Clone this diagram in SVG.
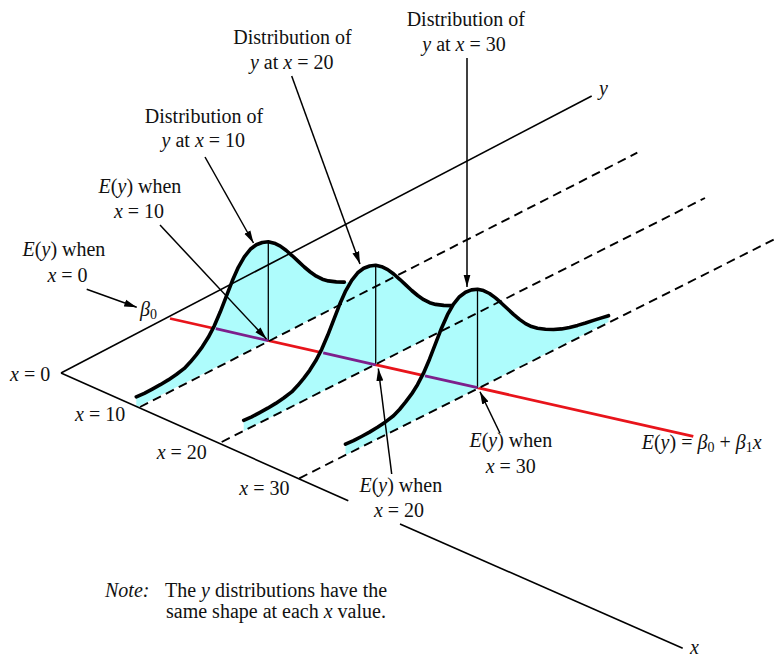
<svg xmlns="http://www.w3.org/2000/svg" width="775" height="659" viewBox="0 0 775 659">
<style>
text{font-family:"Liberation Serif","Times New Roman",serif;font-size:20px;fill:#111}
.i{font-style:italic}
.ax{stroke:#000;stroke-width:1.6;fill:none}
.dash{stroke:#000;stroke-width:1.9;stroke-dasharray:9 5.5;fill:none}
.bell{fill:none;stroke:#000;stroke-width:3.6;stroke-linejoin:round;stroke-linecap:round}
.fill{fill:#aefcfc;stroke:none}
.vl{stroke:#000;stroke-width:1.3}
.arr{stroke:#000;stroke-width:1.5;fill:none;marker-end:url(#ah)}
.red{stroke:#e8141b;stroke-width:2.8}
.pur{stroke:#7d1f8c;stroke-width:2.8}
.sub{font-size:14px}
</style>
<defs>
<marker id="ah" markerUnits="userSpaceOnUse" markerWidth="13" markerHeight="8" refX="12.5" refY="4" orient="auto"><path d="M0,0.5 L12.5,4 L0,7.5 Z" fill="#000"/></marker>
<path id="curveShort" d="M-132,56 L-124,52.5 L-116,48.3 L-108,43.9 L-100,39.1 L-92,33.7 L-84,27.6 L-78,21.3 L-72,14 L-66,6 L-60,-3.5 L-54,-15 L-48,-29 L-42,-44.5 L-36,-60 L-30,-73.5 L-24,-84 L-18,-91.5 L-12,-96 L-6,-98.3 L0,-99 L6,-97.6 L12,-94.7 L18,-90.3 L24,-85 L30,-79.4 L36,-73.8 L42,-68.8 L48,-64.6 L54,-61.6 L60,-59.9 L68,-58.9 L76,-58.7"/>
<path id="curveFull" d="M-132,56 L-124,52.5 L-116,48.3 L-108,43.9 L-100,39.1 L-92,33.7 L-84,27.6 L-78,21.3 L-72,14 L-66,6 L-60,-3.5 L-54,-15 L-48,-29 L-42,-44.5 L-36,-60 L-30,-73.5 L-24,-84 L-18,-91.5 L-12,-96 L-6,-98.3 L0,-99 L6,-97.6 L12,-94.7 L18,-90.3 L24,-85 L30,-79.4 L36,-73.8 L42,-68.8 L48,-64.6 L54,-61.6 L60,-59.9 L68,-58.9 L76,-58.7 L84,-59.3 L92,-60.8 L100,-62.8 L108,-65.2 L116,-67.8 L124,-70.3 L131,-72.5"/>
<path id="fillShort" d="M-132,56 L-124,52.5 L-116,48.3 L-108,43.9 L-100,39.1 L-92,33.7 L-84,27.6 L-78,21.3 L-72,14 L-66,6 L-60,-3.5 L-54,-15 L-48,-29 L-42,-44.5 L-36,-60 L-30,-73.5 L-24,-84 L-18,-91.5 L-12,-96 L-6,-98.3 L0,-99 L6,-97.6 L12,-94.7 L18,-90.3 L24,-85 L30,-79.4 L36,-73.8 L42,-68.8 L48,-64.6 L54,-61.6 L60,-59.9 L68,-58.9 L76,-58.7 L80,-58.8 L80,-40.4 L-132,66.7 Z"/>
<path id="fillFull" d="M-132,56 L-124,52.5 L-116,48.3 L-108,43.9 L-100,39.1 L-92,33.7 L-84,27.6 L-78,21.3 L-72,14 L-66,6 L-60,-3.5 L-54,-15 L-48,-29 L-42,-44.5 L-36,-60 L-30,-73.5 L-24,-84 L-18,-91.5 L-12,-96 L-6,-98.3 L0,-99 L6,-97.6 L12,-94.7 L18,-90.3 L24,-85 L30,-79.4 L36,-73.8 L42,-68.8 L48,-64.6 L54,-61.6 L60,-59.9 L68,-58.9 L76,-58.7 L84,-59.3 L92,-60.8 L100,-62.8 L108,-65.2 L116,-67.8 L124,-70.3 L131,-72.5 L131,-66.2 L-132,66.7 Z"/>
</defs>

<g id="regression-line">
<line class="red" x1="170" y1="318.5" x2="693.3" y2="436.3"/>
</g>

<g id="dist-x10" transform="translate(268.3,340.8)">
<use href="#fillShort" class="fill"/>
<use href="#curveShort" class="bell"/>
<line class="vl" x1="0" y1="0" x2="0" y2="-99"/>
</g>
<g id="dist-x20" transform="translate(375.7,364.3)">
<use href="#fillShort" class="fill"/>
<use href="#curveShort" class="bell"/>
<line class="vl" x1="0" y1="0" x2="0" y2="-99"/>
</g>
<g id="dist-x30" transform="translate(477.5,388.2)">
<use href="#fillFull" class="fill"/>
<use href="#curveFull" class="bell"/>
<line class="vl" x1="0" y1="0" x2="0" y2="-99"/>
</g>

<g id="connectors">
<line class="pur" x1="215.8" y1="328.7" x2="268.3" y2="340.6"/>
<line class="pur" x1="323.2" y1="352.9" x2="375.7" y2="364.8"/>
<line class="pur" x1="425" y1="375.8" x2="477.5" y2="387.7"/>
<line class="ax" x1="61" y1="373" x2="591.7" y2="96"/>
<line class="ax" x1="61" y1="373" x2="348.3" y2="500.7"/>
<line class="ax" x1="400" y1="524" x2="682.7" y2="648.3"/>
<line class="dash" x1="140" y1="407" x2="637.3" y2="152.7"/>
<line class="dash" x1="221.7" y1="442" x2="705" y2="198"/>
<line class="dash" x1="299.3" y1="478.3" x2="775" y2="239"/>
<line class="arr" x1="86.7" y1="289.3" x2="136.7" y2="307.3"/>
<line class="arr" x1="160" y1="225" x2="266.5" y2="339"/>
<line class="arr" x1="205" y1="157" x2="253.5" y2="243"/>
<line class="arr" x1="291.7" y1="76" x2="360" y2="264"/>
<line class="arr" x1="467" y1="58" x2="467" y2="287"/>
<line class="arr" x1="391.7" y1="474" x2="378.3" y2="368.5"/>
<line class="arr" x1="500" y1="433.3" x2="480" y2="391.7"/>
</g>

<g id="lbl-dist10" text-anchor="middle">
<text x="204" y="123.3">Distribution of</text>
<text x="203.3" y="146.7"><tspan class="i">y</tspan> at <tspan class="i">x</tspan> = 10</text>
</g>
<g id="lbl-dist20" text-anchor="middle">
<text x="292.5" y="44">Distribution of</text>
<text x="291.7" y="69"><tspan class="i">y</tspan> at <tspan class="i">x</tspan> = 20</text>
</g>
<g id="lbl-dist30" text-anchor="middle">
<text x="465.8" y="25.7">Distribution of</text>
<text x="464" y="50.7"><tspan class="i">y</tspan> at <tspan class="i">x</tspan> = 30</text>
</g>
<g id="lbl-ey10" text-anchor="middle">
<text x="140" y="193"><tspan class="i">E</tspan>(<tspan class="i">y</tspan>) when</text>
<text x="139" y="218"><tspan class="i">x</tspan> = 10</text>
</g>
<g id="lbl-ey0" text-anchor="middle">
<text x="64" y="256"><tspan class="i">E</tspan>(<tspan class="i">y</tspan>) when</text>
<text x="67.5" y="281.7"><tspan class="i">x</tspan> = 0</text>
</g>
<g id="lbl-beta0">
<text x="140" y="316"><tspan class="i">β</tspan><tspan class="sub" dy="3">0</tspan></text>
</g>
<g id="lbl-ey20" text-anchor="middle">
<text x="400.8" y="491.7"><tspan class="i">E</tspan>(<tspan class="i">y</tspan>) when</text>
<text x="399" y="517.3"><tspan class="i">x</tspan> = 20</text>
</g>
<g id="lbl-ey30" text-anchor="middle">
<text x="510.8" y="446.7"><tspan class="i">E</tspan>(<tspan class="i">y</tspan>) when</text>
<text x="510.8" y="473"><tspan class="i">x</tspan> = 30</text>
</g>
<g id="lbl-equation">
<text x="641.7" y="449.3"><tspan class="i">E</tspan>(<tspan class="i">y</tspan>) = <tspan class="i">β</tspan><tspan class="sub" dy="3">0</tspan><tspan dy="-3"> + </tspan><tspan class="i">β</tspan><tspan class="sub" dy="3">1</tspan><tspan class="i" dy="-3">x</tspan></text>
</g>
<g id="lbl-axes">
<text x="10" y="381"><tspan class="i">x</tspan> = 0</text>
<text x="75" y="421"><tspan class="i">x</tspan> = 10</text>
<text x="156.7" y="458.5"><tspan class="i">x</tspan> = 20</text>
<text x="239.3" y="495"><tspan class="i">x</tspan> = 30</text>
<text x="599" y="95" class="i">y</text>
<text x="690" y="654" class="i">x</text>
</g>
<g id="lbl-note">
<text x="105" y="596.7" class="i">Note:</text>
<text x="165" y="596.7">The <tspan class="i">y</tspan> distributions have the</text>
<text x="166" y="618.3">same shape at each <tspan class="i">x</tspan> value.</text>
</g>
</svg>
